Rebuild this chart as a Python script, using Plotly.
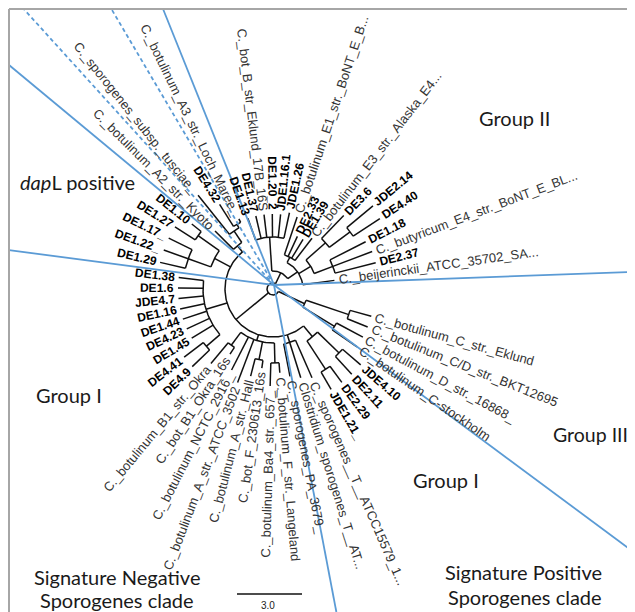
import math
import plotly.graph_objects as go

# ---------------- data ----------------
leaf_names = [
    "C._botulinum_C_str._Eklund", "C._botulinum_C/D_str._BKT12695", "C._botulinum_D_str._16868_",
    "C._botulinum_C-stockholm",
    "JDE4.10", "DE2.11", "DE2.29", "JDE1.21_",
    "C._sporogenes__T__ATCC15579_1...", "Clostridium_sporogenes_T__AT...", "C._sporogenes_PA_3679_",
    "C._botulinum_F_str._Langeland", "C._botulinum_Ba4_str._657_", "C._bot_F_230613_16s",
    "C._botulinum_A_str._Hall", "C._botulinum_A_str._ATCC_3502", "C._botulinum_NCTC_2916_",
    "C._bot_B1_Okra_16s", "C._botulinum_B1_str._Okra",
    "DE4.9", "DE4.41", "DE1.45", "DE4.23", "DE1.44", "DE1.16", "JDE4.7", "DE1.6", "DE1.38",
    "DE1.29", "DE1.22_", "DE1.17_", "DE1.27", "DE1.10",
    "C._botulinum_A2_str._Kyoto", "C._sporogenes_subsp._tusciae_", "DE4.32",
    "C._botulinum_A3_str._Loch_Maree_",
    "DE1.13", "DE1.37", "C._bot_B_str_Eklund_17B_16S", "DE1.20_2", "JDE1.16.1", "JDE1.26",
    "C._botulinum_E1_str._BoNT_E_B...", "DE2.33", "DE1.39", "C._botulinum_E3_str._Alaska_E4...",
    "DE3.6", "JDE2.14", "DE4.40", "DE1.18", "C._butyricum_E4_str._BoNT_E_BL...", "DE2.37",
    "C._beijerinckii_ATCC_35702_SA...",
]
# distance of each tip from the root (pixels of the radial drawing)
tip_radius = [
    102, 102, 102, 102,
    116, 116, 116, 116,
    97, 93, 89,
    84, 97, 80, 90, 100, 91, 78, 97,
    112, 112, 95, 95, 95, 95, 95, 95, 95,
    116, 116, 116, 116, 104,
    82, 120, 100, 78,
    75, 75, 75, 75, 75, 78,
    76, 58, 58, 64,
    102, 130, 128, 104, 106, 106,
    62,
]
# topology: (node radius, [children]); an int child is a leaf index
G3 = (35, [(80, [0, 1]), (72, [2, 3])])
X_CLADE = (62, [(92, [4, 5]), (96, [6, 7])])
SPORO = (56, [8, 9, 10])
BOT = (54, [(74, [11, 12]), (72, [13, 14]), 15, 16, (70, [17, 18])])
LEFT_COMB = (70, [(88, [19, 20]), 21, 22, 23, 24, 25, 26, 27])
DE129 = (66, [(90, [28, 29, 30]), (92, [31, 32])])
DAPL = (56, [33, (70, [34, (74, [35, 36])])])
GI = (48, [X_CLADE, SPORO, BOT, LEFT_COMB, DE129, DAPL])
TOP_COMB = (52, [37, 38, 39, 40, 41, 42])
GII_RIGHT = (30, [(36, [43, 44, 45, 46]),
                  (44, [(70, [47, (96, [48, 49])]), (64, [50, 51, 52])]),
                  53])
GII = (18, [TOP_COMB, GII_RIGHT])
ROOT = (6, [G3, GI, GII])

first_leaf_angle = 15.5     # degrees, clockwise from east
last_leaf_angle = 352.0

divider_angles = [187.5, -140.3, -132.2, -120.5, -111.9, -2.1, 36.6, 79.2]
divider_dashed = [False, False, True, True, False, False, False, False]

group_labels = ["Group II", "<i>dap</i>L positive", "Group I", "Group III", "Group I",
                "Signature Negative", "Sporogenes clade", "Signature Positive", "Sporogenes clade"]
group_label_xy = [(514, 118), (77, 182), (69, 395), (590, 434), (446, 480),
                  (117, 577), (117, 600), (523, 572), (525, 597)]

scale_bar_label = "3.0"

# ---------------- layout helpers ----------------
PAGE_OFFSET = 8            # default body margin of the html page
CX, CY = 273.0, 289.0      # tree centre
BX, BY = 274.0, 285.0      # divider centre
FRAME_L, FRAME_T, FRAME_R, FRAME_B = 9.0, 9.0, 635.0, 612.0

n = len(leaf_names)
step = (last_leaf_angle - first_leaf_angle) / (n - 1)
leaf_angle = [first_leaf_angle + i * step for i in range(n)]

def pt(r, a):
    t = math.radians(a)
    return CX + r * math.cos(t), CY + r * math.sin(t)

xs, ys = [], []

def seg_radial(a, r0, r1):
    x0, y0 = pt(r0, a)
    x1, y1 = pt(r1, a)
    xs.extend([x0, x1, None]); ys.extend([y0, y1, None])

def seg_arc(r, a0, a1):
    k = max(2, int(abs(a1 - a0) / 2) + 2)
    for j in range(k + 1):
        x, y = pt(r, a0 + (a1 - a0) * j / k)
        xs.append(x); ys.append(y)
    xs.append(None); ys.append(None)

def build(node):
    if isinstance(node, int):
        return leaf_angle[node], tip_radius[node]
    r, kids = node
    info = [build(k) for k in kids]
    angs = [a for a, _ in info]
    a0, a1 = min(angs), max(angs)
    seg_arc(r, a0, a1)
    for a, rr in info:
        seg_radial(a, r, rr)
    return (a0 + a1) / 2.0, r

build(ROOT)

W_REG = {' ': 278, '.': 278, '_': 556, '-': 333, '/': 278,
         'A': 667, 'B': 667, 'C': 722, 'D': 722, 'E': 667, 'F': 611, 'G': 778, 'H': 722, 'I': 278,
         'J': 500, 'K': 667, 'L': 556, 'M': 833, 'N': 722, 'O': 778, 'P': 667, 'Q': 778, 'R': 722,
         'S': 667, 'T': 611, 'U': 722, 'V': 667, 'W': 944, 'X': 667, 'Y': 667, 'Z': 611,
         'a': 556, 'b': 556, 'c': 500, 'd': 556, 'e': 556, 'f': 278, 'g': 556, 'h': 556, 'i': 222,
         'j': 222, 'k': 500, 'l': 222, 'm': 833, 'n': 556, 'o': 556, 'p': 556, 'q': 556, 'r': 333,
         's': 500, 't': 278, 'u': 556, 'v': 500, 'w': 722, 'x': 500, 'y': 500, 'z': 500}

def text_width(s, size, bold):
    tot = 0
    for ch in s:
        if ch.isdigit():
            tot += 556
        elif bold and ch == 'J':
            tot += 556
        else:
            tot += W_REG.get(ch, 556)
    return tot / 1000.0 * size

annotations = []
for i, name in enumerate(leaf_names):
    bold = name.startswith("DE") or name.startswith("JDE")
    size = 12 if bold else 13
    w = text_width(name, size, bold)
    a = leaf_angle[i]
    rc = tip_radius[i] + 4 + w / 2.0
    x, y = pt(rc, a)
    an = ((a + 180) % 360) - 180
    ang = an if -90 < an <= 90 else an - 180
    ang = ((ang + 180) % 360) - 180
    annotations.append(dict(
        x=x, y=y, xref="x", yref="y", text=("<b>%s</b>" % name) if bold else name,
        showarrow=False, textangle=ang, xanchor="center", yanchor="middle",
        font=dict(family="Liberation Sans, Arial, sans-serif", size=size,
                  color="#000000" if bold else "#333333")))

for txt, (x, y) in zip(group_labels, group_label_xy):
    annotations.append(dict(x=x, y=y, xref="x", yref="y", text=txt, showarrow=False,
                            xanchor="center", yanchor="middle",
                            font=dict(family="Lato, Open Sans, sans-serif",
                                      size=19.5 if txt == "Group III" else 20, color="#1a1a1a")))

annotations.append(dict(x=268, y=605, xref="x", yref="y", text=scale_bar_label, showarrow=False,
                        xanchor="center", yanchor="middle",
                        font=dict(family="Liberation Sans, Arial, sans-serif", size=10, color="#222")))

def clip_ray(a):
    # end point of a ray from the divider centre where it meets the frame
    t = math.radians(a)
    dx, dy = math.cos(t), math.sin(t)
    ts = []
    if dx > 1e-9: ts.append((FRAME_R - BX) / dx)
    if dx < -1e-9: ts.append((FRAME_L - BX) / dx)
    if dy > 1e-9: ts.append((FRAME_B - BY) / dy)
    if dy < -1e-9: ts.append((FRAME_T - BY) / dy)
    L = min(ts)
    return BX + L * dx, BY + L * dy

fig = go.Figure()
fig.add_trace(go.Scatter(x=xs, y=ys, mode="lines", line=dict(color="#111111", width=1.5),
                         hoverinfo="skip", showlegend=False))

for a, dashed in zip(divider_angles, divider_dashed):
    ex, ey = clip_ray(a)
    fig.add_trace(go.Scatter(x=[BX, ex], y=[BY, ey],
                             mode="lines", showlegend=False, hoverinfo="skip",
                             line=dict(color="#5b9bd5", width=1.8,
                                       dash="4px,3px" if dashed else "solid")))

# scale bar
fig.add_trace(go.Scatter(x=[237, 302], y=[594, 594], mode="lines", showlegend=False,
                         hoverinfo="skip", line=dict(color="#111", width=1.3)))

shapes = [
    dict(type="line", xref="x", yref="y", x0=FRAME_L, y0=FRAME_T, x1=FRAME_R, y1=FRAME_T,
         line=dict(color="#a6a6a6", width=2)),
    dict(type="line", xref="x", yref="y", x0=FRAME_L, y0=FRAME_T, x1=FRAME_L, y1=FRAME_B,
         line=dict(color="#a6a6a6", width=2)),
]

W, H = 635, 612
fig.update_layout(
    width=W - PAGE_OFFSET, height=H - PAGE_OFFSET, margin=dict(l=0, r=0, t=0, b=0, pad=0),
    paper_bgcolor="white", plot_bgcolor="white",
    xaxis=dict(range=[PAGE_OFFSET, W], visible=False, fixedrange=True),
    yaxis=dict(range=[H, PAGE_OFFSET], visible=False, fixedrange=True),
    annotations=annotations, shapes=shapes,
)
fig.write_html("out.html")
